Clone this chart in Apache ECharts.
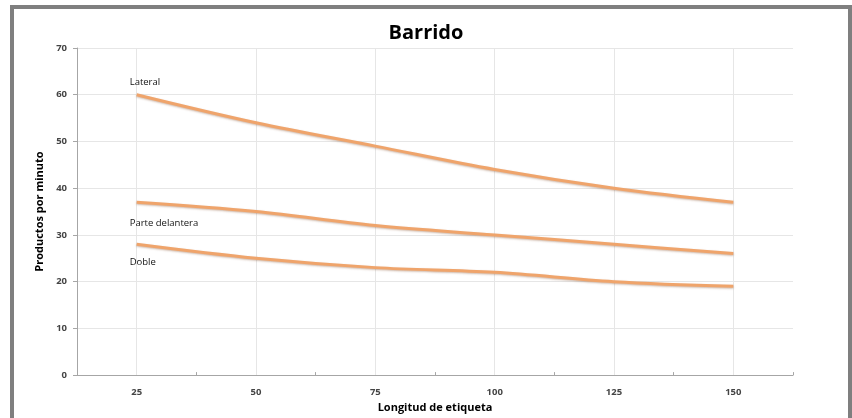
<!DOCTYPE html>
<html>
<head>
<meta charset="utf-8">
<script src="https://cdn.jsdelivr.net/npm/echarts@6/dist/echarts.min.js"></script>
<style>
html,body{margin:0;padding:0;background:#fff;}
#c{width:852px;height:418px;}
</style>
</head>
<body>
<div id="c"></div>
<script>
var categories = ['25', '50', '75', '100', '125', '150'];
var lateral = [60, 54, 49, 44, 40, 37];
var delantera = [37, 35, 32, 30, 28, 26];
var doble = [28, 25, 23, 22, 20, 19];
var yTicks = [0, 10, 20, 30, 40, 50, 60, 70];

var chart = echarts.init(document.getElementById('c'));
var font = '"Open Sans", "Noto Sans", sans-serif';

function mkSeries(name, data, offset) {
  return {
    name: name,
    type: 'line',
    data: data.map(function (v, i) {
      if (i === 0) {
        return {
          value: v,
          label: {
            show: true,
            formatter: name,
            position: offset[2],
            align: 'left',
            offset: [offset[0], offset[1]],
            fontFamily: font,
            fontSize: 9.5,
            color: '#111'
          }
        };
      }
      return v;
    }),
    smooth: 0.35,
    symbol: 'circle',
    symbolSize: 0.01,
    showSymbol: true,
    itemStyle: { color: 'rgba(0,0,0,0)' },
    lineStyle: {
      color: '#efa46b',
      width: 3,
      shadowColor: 'rgba(120,60,20,0.35)',
      shadowBlur: 2,
      shadowOffsetY: 1
    },
    z: 3
  };
}

chart.setOption({
  animation: false,
  backgroundColor: '#fff',
  title: {
    text: 'Barrido',
    left: 'center',
    top: 18,
    textStyle: { fontFamily: font, fontWeight: 'bold', fontSize: 20, color: '#000' }
  },
  graphic: [{
    type: 'rect',
    shape: { x: 12, y: 7, width: 838, height: 440 },
    style: { fill: 'none', stroke: '#7f7f7f', lineWidth: 4 },
    silent: true,
    z: 100
  }],
  grid: { left: 77, right: 59, top: 48, bottom: 38 },
  xAxis: {
    type: 'category',
    data: categories,
    boundaryGap: true,
    name: 'Longitud de etiqueta',
    nameLocation: 'middle',
    nameGap: 21,
    nameTextStyle: { fontFamily: font, fontWeight: 'bold', fontSize: 11, color: '#000' },
    axisLine: { lineStyle: { color: '#a6a6a6', width: 1 } },
    axisTick: { show: true, inside: true, length: 3, lineStyle: { color: '#a6a6a6' } },
    axisLabel: { fontFamily: font, fontWeight: 'bold', fontSize: 9.5, color: '#444', margin: 12 },
    splitLine: { show: true, alignWithLabel: true, lineStyle: { color: '#e6e6e6', width: 1 } }
  },
  yAxis: {
    type: 'value',
    min: yTicks[0],
    max: yTicks[yTicks.length - 1],
    interval: 10,
    name: 'Productos por minuto',
    nameLocation: 'middle',
    nameGap: 30,
    nameRotate: 90,
    nameTextStyle: { fontFamily: font, fontWeight: 'bold', fontSize: 11, color: '#000' },
    axisLine: { show: true, lineStyle: { color: '#a6a6a6', width: 1 } },
    axisTick: { show: true, length: 4, lineStyle: { color: '#a6a6a6' } },
    axisLabel: { fontFamily: font, fontWeight: 'bold', fontSize: 9.5, color: '#444', margin: 10 },
    splitLine: { show: true, lineStyle: { color: '#e6e6e6', width: 1 } }
  },
  series: [
    mkSeries('Lateral', lateral, [-7, -2, 'top']),
    mkSeries('Parte delantera', delantera, [-7, 11, 'bottom']),
    mkSeries('Doble', doble, [-7, 8, 'bottom'])
  ]
});
</script>
</body>
</html>
